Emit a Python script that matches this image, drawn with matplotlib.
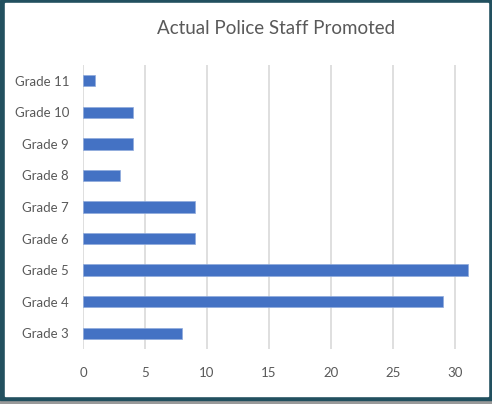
import matplotlib
matplotlib.use("Agg")
import matplotlib.pyplot as plt
from matplotlib.patches import Rectangle

grades = ["Grade 3", "Grade 4", "Grade 5", "Grade 6", "Grade 7",
          "Grade 8", "Grade 9", "Grade 10", "Grade 11"]
promoted = [8, 29, 31, 9, 9, 3, 4, 4, 1]
x_ticks = [0, 5, 10, 15, 20, 25, 30]

plt.rcParams["font.family"] = ["Lato", "DejaVu Sans"]

W, H = 492, 404
fig = plt.figure(figsize=(W / 100, H / 100), dpi=100)

# frame with a drop shadow along the bottom
teal = "#22505f"
fig.patches.append(Rectangle((0, 0), 1, 4 / H, transform=fig.transFigure,
                             color="#9a9a9a", zorder=0))
fig.patches.append(Rectangle((0, 4 / H), 1, 1 - 4 / H, transform=fig.transFigure,
                             color=teal, zorder=0))
fig.patches.append(Rectangle((5 / W, 8 / H), (W - 9) / W, (H - 11) / H,
                             transform=fig.transFigure, color="white", zorder=0))

ax = fig.add_axes([83 / W, 55 / H, 387 / W, 284 / H], zorder=2)
ax.set_facecolor("none")
ax.barh(range(len(grades)), promoted, height=0.36, color="#4472C4",
        edgecolor="#8faadc", linewidth=0.5, zorder=3)
ax.set_xlim(0, 31.2)
ax.set_ylim(-0.5, len(grades) - 0.5)
ax.set_xticks(x_ticks)
ax.set_yticks(range(len(grades)))
ax.set_yticklabels(grades)
ax.grid(axis="x", color="#d9d9d9", linewidth=1.2, zorder=0)
for s in ax.spines.values():
    s.set_visible(False)
ax.tick_params(length=0, colors="#595959", labelsize=9.5)
ax.tick_params(axis="y", pad=10)
ax.tick_params(axis="x", pad=13)

fig.text(276 / W, 1 - 29 / H, "Actual Police Staff Promoted", ha="center",
         va="center", fontsize=13.5, color="#595959", zorder=3)

fig.savefig("out.png", dpi=100)
